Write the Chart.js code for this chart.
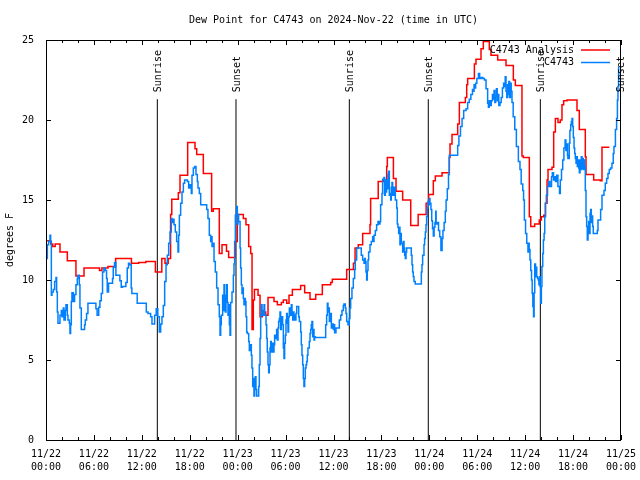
<!DOCTYPE html>
<html>
<head>
<meta charset="utf-8">
<title>Dew Point for C4743</title>
<script src="https://cdn.jsdelivr.net/npm/chart.js@4/dist/chart.umd.min.js"></script>
<style>
  body { margin: 0; background: #fff; }
  canvas { display: block; }
</style>
</head>
<body>
<canvas id="chart" width="640" height="480"></canvas>
<script>
// time = hours since 11/22 00:00 UTC, value = dew point (deg F), one entry per step change
const analysisSteps = [
	[0, 12.45], [0.6, 12.25], [0.85, 12.1], [1.15, 12.25], [1.75, 11.75], [2.67, 11.2], [3.75, 10.25],
	[4.76, 10.75], [6.7, 10.6], [7.0, 10.75], [7.76, 10.85], [8.72, 11.35], [10.7, 11.05], [11.6, 11.1],
	[12.5, 11.15], [13.7, 10.5], [14.5, 11.35], [14.9, 11.05], [15.3, 11.35], [15.6, 14.1], [15.75, 15.05],
	[16.57, 15.45], [16.78, 16.55], [17.74, 18.6], [18.66, 18.2], [18.87, 17.85], [19.7, 16.65], [20.74, 14.3],
	[20.95, 14.45], [21.7, 11.65], [22.04, 12.2], [22.6, 11.8], [22.87, 11.4], [23.7, 12.4], [23.96, 14.1],
	[24.71, 13.85], [25.04, 13.45], [25.38, 12.1], [25.63, 11.65], [25.8, 6.9], [25.96, 8.75], [26.1, 9.4],
	[26.55, 9.05], [26.8, 7.7], [27.09, 8.0], [27.51, 7.8], [27.8, 8.9], [28.55, 8.65], [28.97, 8.45],
	[29.47, 8.6], [29.72, 8.75], [30.14, 8.55], [30.43, 9.05], [30.85, 9.4], [31.89, 9.65], [32.39, 9.2],
	[33.06, 8.8], [33.77, 9.1], [34.6, 9.7], [35.65, 9.85], [35.85, 10.05], [37.65, 10.65], [38.5, 11.05],
	[38.7, 12.0], [39.1, 12.2], [39.65, 12.9], [40.57, 13.45], [40.65, 15.1], [41.6, 16.15], [42.24, 16.25],
	[42.66, 17.1], [42.74, 17.65], [43.5, 16.35], [43.83, 15.55], [44.66, 15.0], [45.67, 13.4], [46.6, 14.1],
	[47.6, 14.8], [47.92, 15.35], [48.5, 16.2], [48.75, 16.5], [49.59, 16.7], [50.5, 17.65], [50.59, 18.5],
	[50.84, 19.1], [51.55, 19.75], [51.76, 21.1], [52.51, 21.4], [52.68, 22.2], [52.8, 22.6], [53.64, 23.5],
	[53.84, 23.8], [54.47, 24.45], [54.76, 24.9], [55.51, 24.4], [55.72, 24.05], [56.56, 23.75], [57.6, 23.4],
	[58.52, 22.5], [58.77, 22.15], [59.6, 17.75], [59.77, 17.65], [60.52, 13.95], [60.7, 13.35], [61.19, 13.5],
	[61.77, 13.75], [62.02, 13.95], [62.32, 14.05], [62.53, 14.8], [62.74, 16.25], [62.86, 16.9], [63.36, 17.05],
	[63.57, 19.25], [63.78, 20.1], [64.11, 19.85], [64.4, 20.0], [64.61, 20.95], [64.82, 21.2], [65.24, 21.25],
	[66.49, 20.6], [66.78, 19.4], [67.53, 17.7], [67.62, 16.6], [68.58, 16.25], [69.41, 16.2], [69.62, 18.3],
	[70.54, 18.3]
];

const obsSteps = [
	[0, 11.35], [0.17, 12.2], [0.33, 12.4], [0.5, 12.8], [0.58, 12.4], [0.67, 9.05], [0.75, 9.25], [0.92, 9.4],
	[1.08, 9.9], [1.25, 10.15], [1.33, 9.25], [1.42, 8.0], [1.5, 7.3], [1.75, 7.8], [1.92, 8.1], [2.0, 7.7],
	[2.17, 8.25], [2.25, 7.5], [2.42, 8.1], [2.5, 8.45], [2.67, 7.8], [2.75, 7.5], [2.92, 7.3], [3.0, 6.65],
	[3.08, 7.2], [3.17, 8.65], [3.25, 9.2], [3.42, 8.65], [3.58, 9.1], [3.75, 9.7], [3.92, 10.1], [4.0, 10.3],
	[4.17, 9.7], [4.25, 8.25], [4.42, 6.9], [4.83, 7.2], [4.92, 7.5], [5.08, 7.9], [5.25, 8.55], [6.25, 8.2],
	[6.4, 7.8], [6.6, 8.3], [6.75, 8.7], [6.92, 9.15], [7.08, 10.5], [7.25, 10.75], [7.42, 10.6], [7.58, 10.1],
	[7.67, 9.25], [7.83, 9.8], [8.33, 10.1], [8.42, 10.8], [8.58, 11.1], [8.75, 10.3], [9.25, 9.95], [9.42, 9.55],
	[9.58, 9.6], [10.0, 9.85], [10.17, 10.75], [10.33, 11.05], [10.5, 10.95], [10.67, 9.5], [10.75, 9.15],
	[11.42, 8.55], [12.56, 8.0], [12.77, 7.9], [13.1, 7.7], [13.27, 7.25], [13.6, 7.8], [13.8, 8.2], [14.0, 7.7],
	[14.19, 6.75], [14.36, 7.25], [14.52, 7.7], [14.69, 8.4], [14.86, 9.9], [15.03, 10.95], [15.19, 11.55],
	[15.36, 12.3], [15.53, 13.0], [15.69, 13.85], [15.78, 13.6], [15.94, 13.8], [16.03, 13.45], [16.19, 13.0],
	[16.36, 12.4], [16.53, 11.75], [16.61, 12.8], [16.7, 14.05], [16.86, 14.8], [17.03, 15.5], [17.2, 16.05],
	[17.36, 16.25], [17.7, 16.15], [17.86, 15.75], [18.03, 15.95], [18.2, 15.4], [18.28, 16.55], [18.45, 17.0],
	[18.62, 17.1], [18.78, 16.6], [18.95, 16.15], [19.03, 15.75], [19.2, 15.4], [19.37, 14.7], [20.12, 14.4],
	[20.28, 13.85], [20.45, 12.8], [20.62, 12.4], [20.7, 12.7], [20.79, 12.1], [20.87, 12.3], [21.04, 11.15],
	[21.2, 10.5], [21.37, 9.5], [21.54, 8.45], [21.7, 7.7], [21.79, 6.55], [21.87, 7.2], [21.95, 7.8],
	[22.12, 9.05], [22.2, 8.1], [22.29, 9.7], [22.37, 8.9], [22.45, 8.0], [22.54, 9.05], [22.62, 9.7],
	[22.7, 8.6], [22.79, 7.8], [22.87, 8.45], [22.96, 7.2], [23.04, 6.55], [23.12, 8.6], [23.29, 9.25],
	[23.46, 10.3], [23.54, 11.0], [23.62, 12.4], [23.71, 14.05], [23.87, 14.6], [23.96, 13.5], [24.04, 14.1],
	[24.12, 13.65], [24.3, 12.0], [24.37, 10.75], [24.46, 9.7], [24.54, 9.15], [24.63, 9.5], [24.71, 8.85],
	[24.79, 8.45], [24.88, 8.85], [24.96, 8.65], [25.04, 7.7], [25.13, 6.75], [25.21, 6.65], [25.38, 6.15],
	[25.46, 5.6], [25.54, 5.95], [25.71, 5.3], [25.79, 4.5], [25.88, 3.35], [25.96, 3.85], [26.04, 2.75],
	[26.13, 3.65], [26.21, 3.95], [26.29, 3.15], [26.38, 2.75], [26.63, 3.35], [26.71, 4.7], [26.8, 6.35],
	[26.88, 7.8], [26.96, 8.45], [27.05, 8.1], [27.13, 7.8], [27.3, 8.45], [27.38, 7.8], [27.55, 7.2],
	[27.63, 6.35], [27.71, 5.5], [27.8, 4.7], [27.88, 4.2], [27.96, 4.7], [28.05, 5.75], [28.13, 6.15],
	[28.21, 5.5], [28.3, 6.05], [28.46, 5.5], [28.55, 5.95], [28.63, 6.55], [28.71, 6.35], [28.88, 6.9],
	[28.97, 6.25], [29.05, 7.0], [29.13, 7.4], [29.22, 7.6], [29.3, 8.0], [29.38, 6.9], [29.47, 7.3],
	[29.55, 7.7], [29.63, 7.2], [29.72, 5.75], [29.8, 5.1], [29.88, 6.05], [29.97, 6.55], [30.05, 7.5],
	[30.13, 7.9], [30.22, 7.3], [30.3, 6.75], [30.38, 7.7], [30.47, 8.25], [30.55, 7.8], [30.63, 8.1],
	[30.72, 8.45], [30.8, 7.8], [30.89, 7.5], [30.97, 8.0], [31.05, 7.8], [31.14, 7.5], [31.3, 7.9],
	[31.39, 8.35], [31.64, 7.7], [31.72, 7.4], [31.89, 6.75], [31.97, 5.95], [32.05, 5.3], [32.14, 4.7],
	[32.22, 3.85], [32.3, 3.35], [32.39, 3.85], [32.47, 4.5], [32.56, 4.7], [32.64, 4.9], [32.72, 5.3],
	[32.8, 5.75], [32.97, 6.15], [33.06, 6.65], [33.14, 6.9], [33.22, 7.2], [33.3, 7.4], [33.39, 6.45],
	[33.47, 6.9], [33.56, 6.25], [33.64, 6.45], [33.72, 6.4], [35.02, 7.2], [35.14, 7.8], [35.23, 8.55],
	[35.31, 8.0], [35.39, 8.25], [35.48, 7.4], [35.64, 7.9], [35.73, 7.0], [35.9, 7.25], [35.98, 6.9],
	[36.06, 7.2], [36.14, 6.7], [36.31, 7.0], [36.73, 7.5], [36.9, 7.8], [37.06, 8.1], [37.23, 8.4],
	[37.31, 8.5], [37.48, 8.25], [37.56, 7.9], [37.65, 7.4], [37.81, 7.2], [37.98, 7.6], [38.06, 8.25],
	[38.15, 8.85], [38.31, 9.5], [38.48, 10.1], [38.65, 10.65], [38.73, 11.25], [38.9, 12.0], [39.48, 11.55],
	[39.65, 11.25], [39.82, 11.05], [39.9, 11.35], [39.98, 11.15], [40.07, 10.5], [40.15, 10.0], [40.23, 10.6],
	[40.32, 11.25], [40.4, 11.75], [40.57, 12.2], [40.73, 12.4], [40.9, 12.7], [40.99, 12.4], [41.07, 12.8],
	[41.24, 13.1], [41.4, 13.45], [41.57, 13.65], [41.65, 13.5], [41.82, 13.65], [41.9, 14.7], [42.07, 15.4],
	[42.15, 16.3], [42.32, 16.4], [42.4, 15.3], [42.49, 16.25], [42.57, 15.5], [42.65, 16.25], [42.74, 15.7],
	[42.82, 16.6], [42.9, 16.8], [42.99, 15.3], [43.07, 15.4], [43.16, 15.0], [43.24, 15.8], [43.32, 16.1],
	[43.41, 15.3], [43.57, 15.8], [43.74, 15.0], [43.91, 14.5], [43.99, 13.5], [44.07, 13.3], [44.16, 12.9],
	[44.24, 13.3], [44.32, 12.2], [44.41, 12.9], [44.49, 12.3], [44.66, 11.75], [44.74, 12.4], [44.83, 12.0],
	[44.91, 11.55], [44.99, 11.35], [45.08, 11.75], [45.16, 12.0], [45.74, 11.55], [45.83, 10.95], [45.91, 10.5],
	[45.99, 10.2], [46.08, 9.9], [46.24, 9.75], [47.0, 10.5], [47.08, 10.95], [47.16, 11.55], [47.33, 12.2],
	[47.41, 12.6], [47.5, 13.0], [47.58, 13.45], [47.66, 13.95], [47.75, 14.5], [47.83, 14.9], [47.91, 14.7],
	[48.0, 15.1], [48.08, 14.8], [48.2, 14.4], [48.3, 13.7], [48.4, 13.2], [48.5, 12.75], [48.6, 13.3],
	[48.7, 13.6], [48.8, 14.3], [48.85, 13.5], [49.0, 13.6], [49.15, 13.1], [49.3, 12.7], [49.45, 11.85],
	[49.6, 12.6], [49.7, 13.1], [49.85, 13.6], [50.0, 14.3], [50.1, 15.0], [50.25, 15.7], [50.4, 16.6],
	[50.5, 17.8], [51.55, 18.4], [51.7, 19.0], [51.9, 19.6], [52.1, 20.1], [52.3, 20.6], [52.6, 20.7],
	[52.8, 21.1], [53.0, 21.3], [53.2, 21.6], [53.4, 21.9], [53.5, 21.8], [53.6, 22.2], [53.7, 22.0],
	[53.8, 22.3], [53.95, 22.6], [54.15, 22.9], [54.3, 22.6], [54.5, 22.65], [54.7, 22.6], [54.9, 22.5],
	[55.1, 21.95], [55.3, 21.05], [55.4, 20.8], [55.5, 21.2], [55.6, 20.9], [55.75, 21.2], [55.9, 21.6],
	[56.0, 21.3], [56.1, 21.85], [56.2, 21.1], [56.3, 21.5], [56.4, 21.95], [56.5, 21.2], [56.6, 21.6],
	[56.7, 20.9], [56.85, 21.1], [57.0, 21.4], [57.15, 22.0], [57.3, 22.3], [57.4, 22.1], [57.5, 22.7],
	[57.6, 21.8], [57.7, 21.4], [57.8, 22.2], [57.85, 21.6], [57.95, 22.4], [58.05, 21.4], [58.15, 22.3],
	[58.25, 21.8], [58.35, 21.1], [58.5, 20.2], [58.7, 19.4], [58.9, 18.35], [59.15, 17.4], [59.35, 16.9],
	[59.5, 16.0], [59.7, 15.6], [59.8, 15.0], [59.9, 13.75], [60.05, 12.9], [60.2, 12.3], [60.35, 11.75],
	[60.45, 12.3], [60.5, 11.9], [60.6, 11.25], [60.7, 10.6], [60.8, 10.0], [60.88, 9.15], [60.96, 8.35],
	[61.05, 7.7], [61.12, 9.2], [61.2, 11.0], [61.3, 10.2], [61.38, 10.8], [61.45, 10.2], [61.55, 10.1],
	[61.65, 10.0], [61.72, 9.7], [61.8, 10.2], [61.87, 9.6], [61.95, 8.55], [62.03, 9.6], [62.1, 10.85],
	[62.2, 11.65], [62.28, 12.5], [62.37, 12.9], [62.45, 13.95], [62.55, 14.8], [62.65, 15.3], [62.8, 15.85],
	[62.95, 16.15], [63.1, 15.85], [63.3, 16.45], [63.4, 16.7], [63.55, 16.25], [63.7, 16.45], [63.8, 16.15],
	[63.95, 16.55], [64.1, 15.85], [64.3, 15.4], [64.4, 16.25], [64.55, 16.9], [64.7, 17.5], [64.85, 18.25],
	[65.0, 18.75], [65.1, 18.1], [65.2, 18.5], [65.3, 17.8], [65.35, 17.6], [65.52, 18.55], [65.6, 19.35],
	[65.7, 19.7], [65.78, 19.9], [65.87, 20.1], [65.95, 19.6], [66.03, 18.9], [66.12, 18.25], [66.2, 17.9],
	[66.28, 17.6], [66.37, 17.3], [66.45, 17.7], [66.53, 17.1], [66.62, 17.5], [66.7, 17.0], [66.78, 16.7],
	[66.87, 17.5], [66.95, 16.9], [67.03, 17.7], [67.12, 16.95], [67.2, 17.6], [67.28, 16.9], [67.37, 17.5],
	[67.45, 17.1], [67.53, 15.6], [67.62, 13.95], [67.7, 13.35], [67.78, 12.5], [67.87, 13.0], [67.95, 13.65],
	[68.03, 12.9], [68.12, 14.15], [68.2, 14.4], [68.28, 13.6], [68.37, 14.0], [68.45, 13.35], [68.53, 12.9],
	[69.03, 13.1], [69.12, 13.75], [69.45, 14.4], [69.62, 15.3], [69.87, 15.6], [70.03, 16.05], [70.2, 16.35],
	[70.37, 16.65], [70.53, 16.9], [70.7, 17.0], [70.87, 17.3], [71.03, 17.9], [71.12, 18.35], [71.3, 19.4],
	[71.45, 20.1], [71.55, 21.25], [71.62, 22.1], [71.7, 23.3], [71.75, 23.3]
];

const eventHours = [13.94, 23.79, 37.98, 47.87, 61.9, 71.95];
const eventNames = ['Sunrise', 'Sunset', 'Sunrise', 'Sunset', 'Sunrise', 'Sunset'];
const eventTop = 21.3;

const xTickLabels = [
	['11/22', '00:00'], ['11/22', '06:00'], ['11/22', '12:00'], ['11/22', '18:00'],
	['11/23', '00:00'], ['11/23', '06:00'], ['11/23', '12:00'], ['11/23', '18:00'],
	['11/24', '00:00'], ['11/24', '06:00'], ['11/24', '12:00'], ['11/24', '18:00'],
	['11/25', '00:00']
];

const FONT = 'DejaVu Sans Mono';
Chart.defaults.font.family = FONT;
Chart.defaults.font.size = 10;
Chart.defaults.color = '#000';

const toXY = steps => steps.map(s => ({ x: s[0], y: s[1] }));

const eventSets = eventHours.map(h => ({
	label: '',
	data: [{ x: h, y: 0 }, { x: h, y: eventTop }],
	borderColor: '#000',
	borderWidth: 1,
	pointRadius: 0
}));

// frame, inward ticks, event labels and the key, drawn over the plot
const decorations = {
	id: 'decorations',
	afterDatasetsDraw(chart) {
		const { ctx, chartArea: a, scales: { x, y } } = chart;
		ctx.save();
		ctx.strokeStyle = '#000';
		ctx.lineWidth = 1;
		ctx.beginPath();
		for (let h = 0; h <= 72; h += 2) {
			const px = Math.round(x.getPixelForValue(h)) + 0.5;
			const len = h % 6 === 0 ? 5 : 3;
			ctx.moveTo(px, a.bottom); ctx.lineTo(px, a.bottom - len);
			ctx.moveTo(px, a.top); ctx.lineTo(px, a.top + len);
		}
		y.ticks.forEach(t => {
			const py = Math.round(y.getPixelForValue(t.value)) + 0.5;
			ctx.moveTo(a.left, py); ctx.lineTo(a.left + 5, py);
			ctx.moveTo(a.right, py); ctx.lineTo(a.right - 5, py);
		});
		ctx.stroke();
		ctx.strokeRect(a.left + 0.5, a.top + 0.5, a.width - 1, a.height);

		ctx.fillStyle = '#000';
		ctx.font = '10px "' + FONT + '"';
		ctx.textBaseline = 'middle';
		eventHours.forEach((h, i) => {
			ctx.save();
			ctx.translate(x.getPixelForValue(h) + 1, y.getPixelForValue(eventTop) - 7);
			ctx.rotate(-Math.PI / 2);
			ctx.textAlign = 'left';
			ctx.fillText(eventNames[i], 0, 0);
			ctx.restore();
		});

		const key = [chart.data.datasets[1], chart.data.datasets[0]];
		key.forEach((ds, i) => {
			const ky = a.top + 10 + i * 12.5;
			ctx.textAlign = 'right';
			ctx.fillText(ds.label, a.right - 47, ky);
			ctx.strokeStyle = ds.borderColor;
			ctx.lineWidth = 1.5;
			ctx.beginPath();
			ctx.moveTo(a.right - 40, ky);
			ctx.lineTo(a.right - 11, ky);
			ctx.stroke();
		});
		ctx.restore();
	}
};

new Chart(document.getElementById('chart'), {
	type: 'line',
	data: {
		datasets: [
			{
				label: 'C4743',
				data: toXY(obsSteps),
				borderColor: 'rgb(0, 128, 255)',
				borderWidth: 1.5,
				pointRadius: 0,
				stepped: true
			},
			{
				label: 'C4743 Analysis',
				data: toXY(analysisSteps),
				borderColor: '#ff0000',
				borderWidth: 1.5,
				pointRadius: 0,
				stepped: true
			}
		].concat(eventSets)
	},
	options: {
		responsive: false,
		animation: false,
		devicePixelRatio: 1,
		layout: { padding: { top: 0, right: 19, bottom: 0, left: 0 } },
		plugins: {
			legend: { display: false },
			tooltip: { enabled: false },
			title: {
				display: true,
				fullSize: false,
				text: 'Dew Point for C4743 on 2024-Nov-22 (time in UTC)',
				font: { size: 10, weight: 'normal', lineHeight: 1.2 },
				padding: { top: 14, bottom: 14 }
			}
		},
		scales: {
			x: {
				type: 'linear',
				min: 0,
				max: 72,
				grid: { display: false },
				border: { display: false },
				ticks: {
					stepSize: 6,
					autoSkip: false,
					maxRotation: 0,
					padding: 0,
					font: { size: 10, lineHeight: 1.3 },
					callback: v => xTickLabels[Math.round(v / 6)]
				},
				afterFit: s => {
					s.height = 40;
					s.paddingLeft = 0;
					s.paddingRight = 0;
				}
			},
			y: {
				min: 0,
				max: 25,
				grid: { display: false },
				border: { display: false },
				ticks: { stepSize: 5, padding: 4 },
				title: {
					display: true,
					text: 'degrees F',
					font: { size: 10, lineHeight: 1.2 },
					padding: { top: 4, bottom: 0 }
				},
				afterFit: s => {
					s.width = 46;
					s.paddingTop = 0;
					s.paddingBottom = 0;
				}
			}
		}
	},
	plugins: [decorations]
});
</script>
</body>
</html>
